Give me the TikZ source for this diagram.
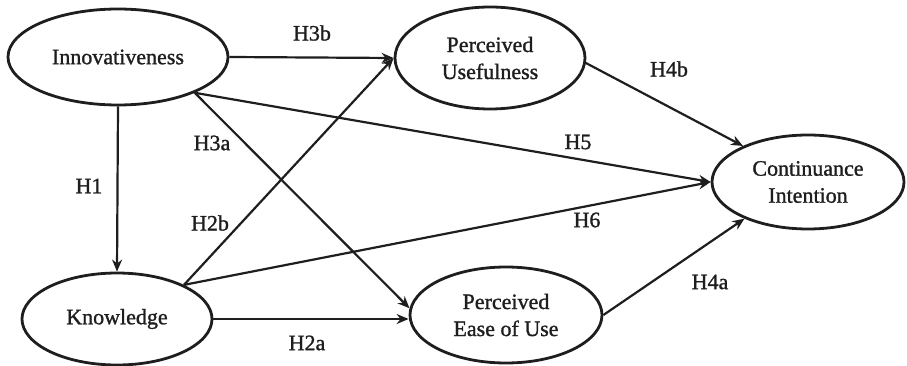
\documentclass[tikz,border=0pt]{standalone}
\usepackage{fontspec}
\setmainfont{Liberation Serif}
\newfontfamily\labelface[FakeBold=1.2]{Liberation Serif}
\usetikzlibrary{shapes.geometric,arrows.meta}
\definecolor{ink}{HTML}{1E1E1E}
\begin{document}
\begin{tikzpicture}[x=1pt,y=-1pt,
  construct/.style={ellipse,draw=ink,line width=2.8pt,inner sep=0pt,
    align=center,text=ink,font=\labelface\fontsize{22}{27}\selectfont},
  link/.style={draw=ink,line width=2.2pt,-{Stealth[length=12pt,width=10pt]}},
  hyp/.style={inner sep=0pt,text=ink,font=\labelface\fontsize{22}{26}\selectfont}]
\useasboundingbox (0,0) rectangle (907,366);

% constructs
\node[construct,minimum width=220pt,minimum height=96pt]  (inn)  at (118,57)  {Innovativeness};
\node[construct,minimum width=190pt,minimum height=102pt] (pu)   at (490,58)  {Perceived\\Usefulness};
\node[construct,minimum width=192pt,minimum height=94pt]  (ci)   at (808,182) {Continuance\\Intention};
\node[construct,minimum width=190pt,minimum height=92pt]  (kn)   at (117,319) {Knowledge};
\node[construct,minimum width=192pt,minimum height=96pt]  (peou) at (506,315) {Perceived\\Ease of Use};

% hypothesised paths
\draw[link] (inn.east) -- (pu.west);
\draw[link] (inn.south) -- (kn.north);
\draw[link] (inn.-25) -- (peou.176);
\draw[link] (inn.-25) -- (ci.west);
\draw[link] (kn.27) -- (pu.west);
\draw[link] (kn.27) -- (ci.west);
\draw[link] (kn.east) -- (kn.east -| peou.west);
\draw[link] (pu.-3) -- (ci.151);
\draw[link] (peou.east) -- (ci.-150);

% path labels
\node[hyp] (h3b) at (312,33)  {H3b};
\node[hyp] (h1)  at (89,186)  {H1};
\node[hyp] (h3a) at (212,143) {H3a};
\node[hyp] (h2b) at (210,223) {H2b};
\node[hyp] (h5)  at (578,142) {H5};
\node[hyp] (h6)  at (587,220) {H6};
\node[hyp] (h4b) at (669,69)  {H4b};
\node[hyp] (h4a) at (710,282) {H4a};
\node[hyp] (h2a) at (307,343) {H2a};
\end{tikzpicture}
\end{document}
